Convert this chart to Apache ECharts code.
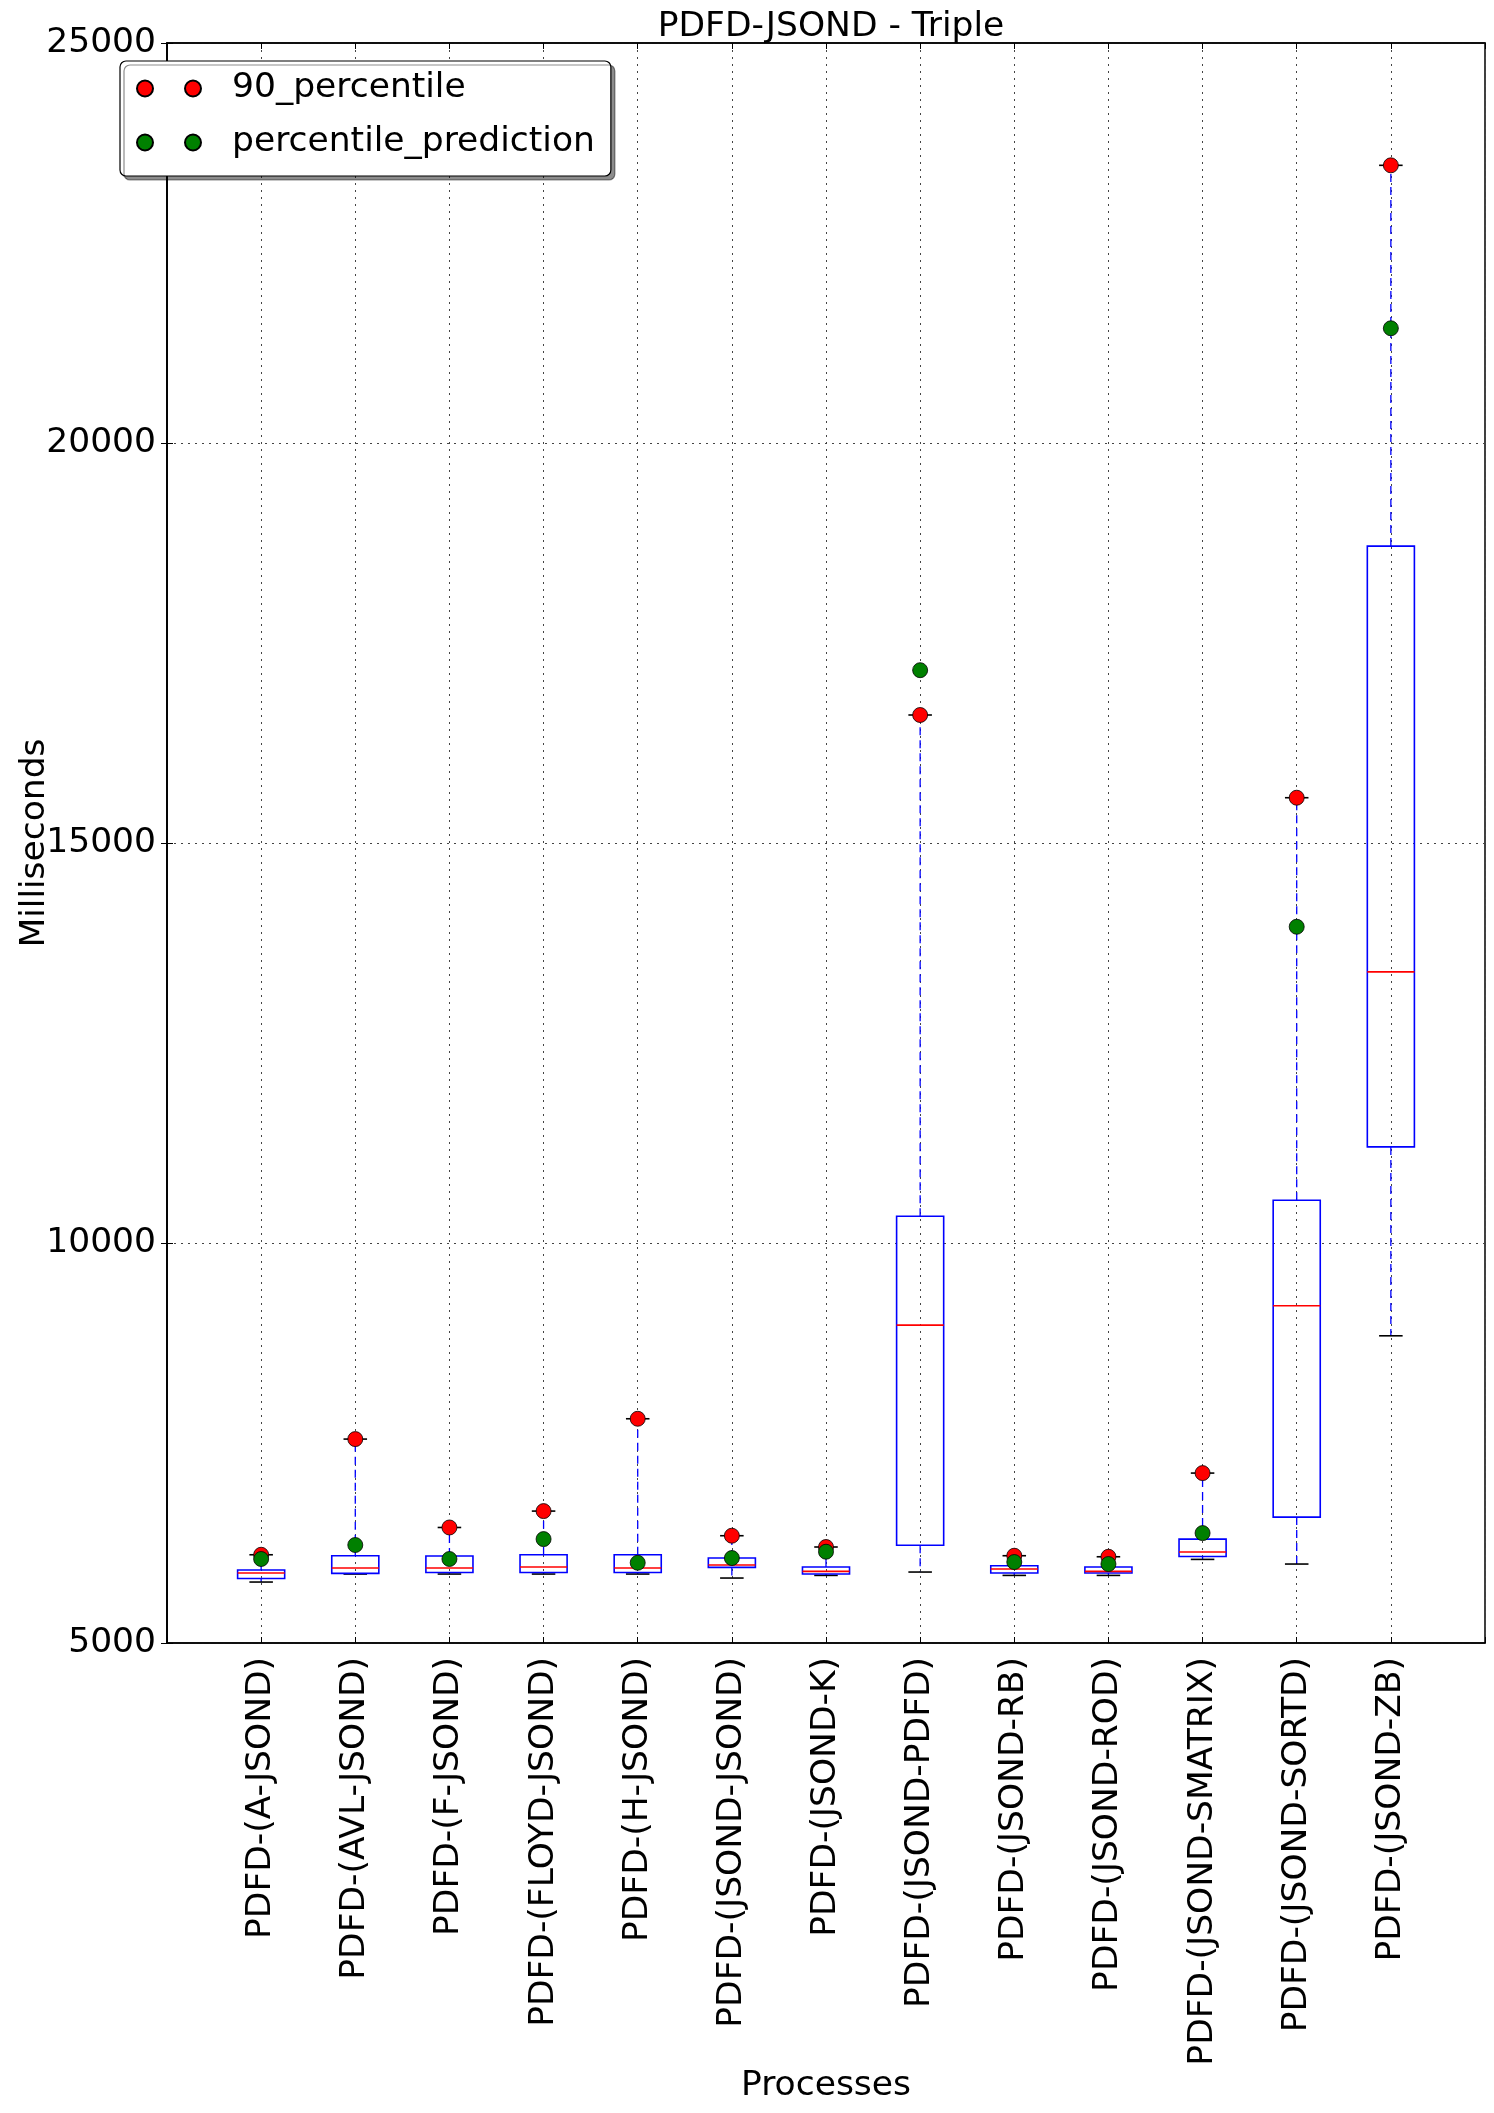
<!DOCTYPE html>
<html>
<head>
<meta charset="utf-8">
<script src="https://cdn.jsdelivr.net/npm/echarts@6/dist/echarts.min.js"></script>
<style>
  html, body { margin: 0; padding: 0; background: #fff; }
  #chart { width: 1494px; height: 2113px; }
</style>
</head>
<body>
<div id="chart"></div>
<script>
const categories = ['PDFD-(A-JSOND)', 'PDFD-(AVL-JSOND)', 'PDFD-(F-JSOND)', 'PDFD-(FLOYD-JSOND)', 'PDFD-(H-JSOND)', 'PDFD-(JSOND-JSOND)', 'PDFD-(JSOND-K)', 'PDFD-(JSOND-PDFD)', 'PDFD-(JSOND-RB)', 'PDFD-(JSOND-ROD)', 'PDFD-(JSOND-SMATRIX)', 'PDFD-(JSOND-SORTD)', 'PDFD-(JSOND-ZB)'];
const whiskerLow  = [5762, 5862, 5862, 5862, 5862, 5812, 5845, 5887, 5845, 5845, 6045, 5987, 8840];
const q1          = [5807, 5870, 5882, 5882, 5882, 5945, 5862, 6222, 5875, 5875, 6082, 6574, 11201];
const median      = [5875, 5937, 5937, 5950, 5937, 5975, 5895, 8973, 5925, 5895, 6137, 9215, 13389];
const q3          = [5912, 6091, 6087, 6103, 6103, 6062, 5950, 10335, 5966, 5950, 6299, 10535, 18711];
const whiskerHigh = [6103, 7549, 6444, 6649, 7803, 6341, 6200, 16600, 6091, 6078, 7124, 15566, 23471];
const p90         = [6103, 7549, 6444, 6649, 7803, 6341, 6200, 16600, 6091, 6078, 7124, 15566, 23471];
const prediction  = [6050, 6225, 6050, 6299, 6003, 6062, 6141, 17160, 6012, 5987, 6374, 13953, 21434];
const yMin = 5000, yMax = 25000, yStep = 5000;

const FONT = 'DejaVu Sans';
const FS = 34.5;
const boxData = categories.map((c, i) => [i + 1, whiskerLow[i], q1[i], median[i], q3[i], whiskerHigh[i]]);
const p90Data = p90.map((v, i) => [i + 1, v]);
const predData = prediction.map((v, i) => [i + 1, v]);

function renderBox(params, api) {
  const x = api.value(0);
  const pLow = api.coord([x, api.value(1)]);
  const pQ1 = api.coord([x, api.value(2)]);
  const pMed = api.coord([x, api.value(3)]);
  const pQ3 = api.coord([x, api.value(4)]);
  const pHigh = api.coord([x, api.value(5)]);
  const unit = api.size([1, 0])[0];
  const half = unit * 0.25;
  const capHalf = unit * 0.125;
  const blue = '#0000ff';
  const dashStyle = { stroke: blue, lineWidth: 1.3, lineDash: [8, 5], fill: null };
  const capStyle = { stroke: '#000', lineWidth: 1.6, fill: null };
  return {
    type: 'group',
    children: [
      { type: 'line', shape: { x1: pQ3[0], y1: pQ3[1], x2: pHigh[0], y2: pHigh[1] }, style: dashStyle },
      { type: 'line', shape: { x1: pQ1[0], y1: pQ1[1], x2: pLow[0], y2: pLow[1] }, style: dashStyle },
      { type: 'line', shape: { x1: pHigh[0] - capHalf, y1: pHigh[1], x2: pHigh[0] + capHalf, y2: pHigh[1] }, style: capStyle },
      { type: 'line', shape: { x1: pLow[0] - capHalf, y1: pLow[1], x2: pLow[0] + capHalf, y2: pLow[1] }, style: capStyle },
      { type: 'rect', shape: { x: pQ3[0] - half, y: pQ3[1], width: 2 * half, height: pQ1[1] - pQ3[1] }, style: { stroke: blue, lineWidth: 1.6, fill: null } },
      { type: 'line', shape: { x1: pMed[0] - half, y1: pMed[1], x2: pMed[0] + half, y2: pMed[1] }, style: { stroke: '#ff0000', lineWidth: 1.6, fill: null } }
    ]
  };
}

const gridLine = { show: true, lineStyle: { color: '#444', width: 1, type: [2, 5] } };
const chart = echarts.init(document.getElementById('chart'), null, { renderer: 'canvas' });
chart.setOption({
  animation: false,
  backgroundColor: '#fff',
  title: {
    text: 'PDFD-JSOND - Triple',
    left: 826, top: 5, textAlign: 'center',
    textStyle: { fontFamily: FONT, fontSize: FS, fontWeight: 'normal', color: '#000' }
  },
  legend: {
    orient: 'vertical', left: 120, top: 61,
    padding: [10, 16, 16, 16], itemGap: 19,
    itemWidth: 64, itemHeight: 16,
    selectedMode: false,
    backgroundColor: '#fff', borderColor: '#000', borderWidth: 1.2, borderRadius: 6,
    shadowColor: 'rgba(0,0,0,0.45)', shadowOffsetX: 4, shadowOffsetY: 4, shadowBlur: 0,
    icon: 'path://M0,8A8,8,0,1,1,16,8A8,8,0,1,1,0,8Z M48,8A8,8,0,1,1,64,8A8,8,0,1,1,48,8Z',
    textStyle: { fontFamily: FONT, fontSize: FS, color: '#000', padding: [0, 0, 0, 26] },
    data: ['90_percentile', 'percentile_prediction']
  },
  grid: { left: 167, right: 9, top: 43, bottom: 470, show: true, borderColor: '#000', borderWidth: 1.5, backgroundColor: 'transparent' },
  xAxis: [{
    type: 'value', min: 0, max: categories.length + 1, interval: 1,
    name: 'Processes', nameLocation: 'middle', nameGap: 426, nameMoveOverlap: false,
    nameTextStyle: { fontFamily: FONT, fontSize: FS, color: '#000' },
    axisLine: { show: true, lineStyle: { color: '#000', width: 1.5 } },
    axisTick: { show: true, inside: true, length: 6, lineStyle: { color: '#000' } },
    axisLabel: {
      rotate: 90, margin: 14, fontFamily: FONT, fontSize: FS, color: '#000',
      showMinLabel: true, showMaxLabel: true,
      formatter: v => (v >= 1 && v <= categories.length && Number.isInteger(v)) ? categories[v - 1] : ''
    },
    splitLine: gridLine
  }, {
    type: 'value', position: 'top', min: 0, max: categories.length + 1, interval: 1,
    axisLine: { show: true, lineStyle: { color: '#000', width: 1.5 } },
    axisTick: { show: true, inside: true, length: 6, lineStyle: { color: '#000' } },
    axisLabel: { show: false }, splitLine: { show: false }
  }],
  yAxis: [{
    type: 'value', min: yMin, max: yMax, interval: yStep,
    name: 'Milliseconds', nameLocation: 'middle', nameGap: 114, nameRotate: 90, nameMoveOverlap: false,
    nameTextStyle: { fontFamily: FONT, fontSize: FS, color: '#000' },
    axisLine: { show: true, lineStyle: { color: '#000', width: 1.5 } },
    axisTick: { show: true, inside: true, length: 6, lineStyle: { color: '#000' } },
    axisLabel: { margin: 11, fontFamily: FONT, fontSize: FS, color: '#000', formatter: v => String(v) },
    splitLine: gridLine
  }, {
    type: 'value', position: 'right', min: yMin, max: yMax, interval: yStep,
    axisLine: { show: true, lineStyle: { color: '#000', width: 1.5 } },
    axisTick: { show: true, inside: true, length: 6, lineStyle: { color: '#000' } },
    axisLabel: { show: false }, splitLine: { show: false }
  }],
  series: [
    {
      type: 'custom', name: 'boxes', renderItem: renderBox, data: boxData,
      encode: { x: 0, y: [1, 2, 3, 4, 5] }, z: 2, clip: false
    },
    {
      type: 'scatter', name: '90_percentile', data: p90Data, symbol: 'circle', symbolSize: 15, z: 3,
      itemStyle: { color: '#ff0000', borderColor: '#000', borderWidth: 0.8, opacity: 1 }
    },
    {
      type: 'scatter', name: 'percentile_prediction', data: predData, symbol: 'circle', symbolSize: 15, z: 4,
      itemStyle: { color: '#008000', borderColor: '#000', borderWidth: 0.8, opacity: 1 }
    }
  ]
});
</script>
</body>
</html>
